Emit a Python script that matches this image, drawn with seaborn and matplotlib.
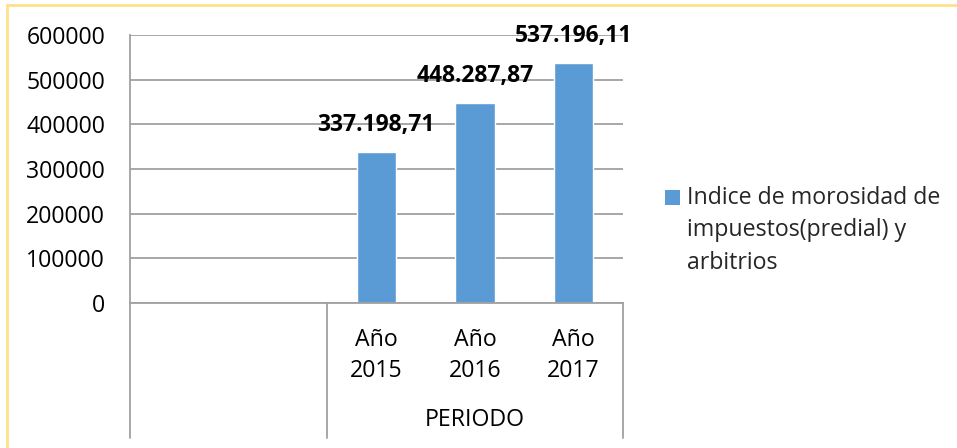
import matplotlib
matplotlib.use("Agg")
import matplotlib.pyplot as plt
import matplotlib.transforms as mtransforms
import seaborn as sns
import pandas as pd
from matplotlib.patches import Patch, Rectangle
from matplotlib.legend_handler import HandlerPatch

# datos del grafico
periods = ["Año 2015", "Año 2016", "Año 2017"]
values = [337198.71, 448287.87, 537196.11]
blank_slots = ["_v1", "_v2"]  # categorias vacias a la izquierda (como en Excel)
group_label = "PERIODO"
series_label = "Indice de morosidad de\nimpuestos(predial) y\narbitrios"
yticks = [0, 100000, 200000, 300000, 400000, 500000, 600000]

BAR = "#5B9BD5"
GRID = "#a0a0a0"
FONT = ["Open Sans", "DejaVu Sans"]
FS = 16.7


def fmt_es(v):
    s = f"{v:,.2f}"
    return s.replace(",", "X").replace(".", ",").replace("X", ".")


class TopPatchHandler(HandlerPatch):
    # cuadro de leyenda alineado con la primera linea (estilo Excel)
    def __init__(self, shift, **kw):
        super().__init__(**kw)
        self.shift = shift

    def create_artists(self, legend, orig_handle, xdescent, ydescent,
                       width, height, fontsize, trans):
        p = Rectangle((-xdescent, -ydescent + self.shift), width, height,
                      facecolor=orig_handle.get_facecolor(), edgecolor="none",
                      transform=trans)
        return [p]


sns.set_theme(style="white")
plt.rcParams["font.family"] = FONT

df = pd.DataFrame({"periodo": periods, "valor": values})
order = blank_slots + periods

fig = plt.figure(figsize=(9.57, 4.48), dpi=100)
ax = fig.add_axes([130 / 957, 1 - 303 / 448, (622.75 - 130) / 957, (303 - 35) / 448])

sns.barplot(data=df, x="periodo", y="valor", order=order, color=BAR,
            width=0.4, saturation=1, ax=ax)

ax.set_xlim(-0.5, len(order) - 0.5)
ax.set_ylim(0, 600000)
ax.set_yticks(yticks)
ax.set_yticklabels([str(t) for t in yticks], fontsize=FS, color="black")
ax.set_xticks(range(len(order)))
ax.set_xticklabels([""] * len(blank_slots) + [p.replace(" ", "\n") for p in periods],
                   fontsize=FS, color="black", linespacing=1.4)
ax.tick_params(axis="y", length=0, pad=18)
ax.tick_params(axis="x", length=0, pad=18)
ax.set_xlabel("")
ax.set_ylabel("")

ax.set_axisbelow(True)
ax.yaxis.grid(True, color=GRID, lw=1.3)
ax.xaxis.grid(False)
for side in ["top", "right"]:
    ax.spines[side].set_visible(False)
for side in ["left", "bottom"]:
    ax.spines[side].set_color(GRID)
    ax.spines[side].set_linewidth(1.3)

# etiquetas de datos
for x, v in zip(range(len(blank_slots), len(order)), values):
    ax.annotate(fmt_es(v), (x, v), xytext=(0, 27), textcoords="offset pixels",
                ha="center", va="center", fontsize=16.5, fontweight="bold", color="black")

# eje de categorias multinivel
trans = mtransforms.blended_transform_factory(ax.transData, ax.transAxes)
for xb in [-0.5, len(blank_slots) - 0.5, len(order) - 0.5]:
    ax.plot([xb, xb], [0, -135 / 268], transform=trans, color=GRID, lw=1.3, clip_on=False)
ax.text((len(blank_slots) - 0.5 + len(order) - 0.5) / 2, -117 / 268, group_label,
        transform=trans, ha="center", va="center", fontsize=FS, color="black")

# leyenda
handle = Patch(color=BAR, label=series_label)
leg = fig.legend(handles=[handle], loc="upper left",
                 bbox_to_anchor=(665 / 957, 1 - 186 / 448),
                 frameon=False, fontsize=FS, handlelength=0.65, handleheight=0.65,
                 handletextpad=0.3, borderaxespad=0, borderpad=0,
                 handler_map={Patch: TopPatchHandler(shift=34 * 72 / 100)})
for t in leg.get_texts():
    t.set_linespacing(1.47)

# marco exterior
fig.add_artist(plt.Line2D([7 / 957, 1], [1 - 5 / 448, 1 - 5 / 448],
                          transform=fig.transFigure, color="#FFE08A", lw=2))
fig.add_artist(plt.Line2D([7 / 957, 7 / 957], [0, 1 - 5 / 448],
                          transform=fig.transFigure, color="#FFE08A", lw=2))

fig.savefig("out.png", dpi=100)
